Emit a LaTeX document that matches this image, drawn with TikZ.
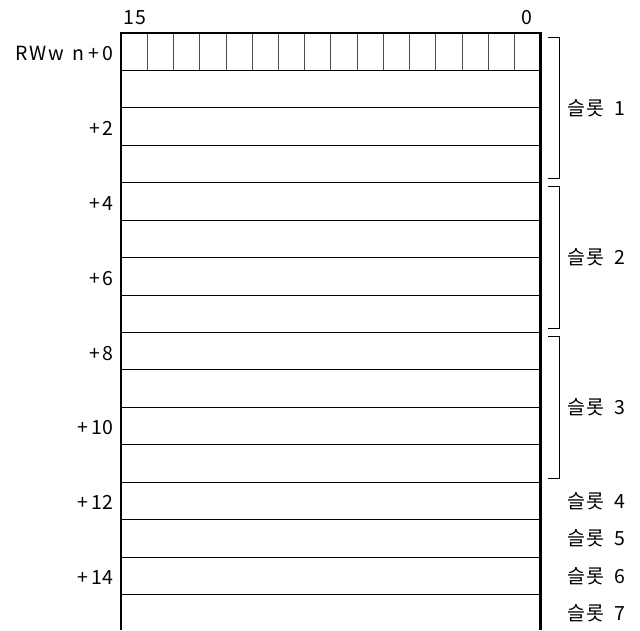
\documentclass[tikz,border=0pt]{standalone}
\usepackage{fontspec}
\setmainfont{Noto Sans CJK KR}
\begin{document}
\begin{tikzpicture}[x=1pt,y=-1pt,
  lbl/.style={font=\fontsize{19.5}{21}\selectfont, inner sep=0pt},
  rowline/.style={line width=1pt},
  bitline/.style={line width=0.7pt, black!70},
  frame/.style={line width=2.4pt},
  brk/.style={line width=0.9pt}]
\useasboundingbox (0,0) rectangle (640,630);
\def\L{121}\def\R{540.5}\def\T{33}\def\H{37.43}
% horizontal row lines
\foreach \k in {1,...,15}
  \draw[rowline] (\L,{\T+\k*\H}) -- (\R,{\T+\k*\H});
% bit cells
\foreach \i in {1,...,15}
  \draw[bitline] ({\L+\i*26.22},\T) -- ({\L+\i*26.22},{\T+\H});
% frame
\draw[frame] (\L,630) -- (\L,\T) -- (\R,\T) -- (\R,630);
% bit labels
\node[lbl] (b15) at (135,18) {1\kern1pt5};
\node[lbl] (b0) at (527,18) {0};
% row labels
\node[lbl,anchor=east] (r0) at (114,{\T+0.5*\H+2}) {R\kern2ptW\kern2ptw\hspace{8pt}n\hspace{4pt}+\hspace{4pt}0};
\foreach \k/\t in {2/2,4/4,6/6,8/8,10/1\kern1pt0,12/1\kern1pt2,14/1\kern1pt4}
  \node[lbl,anchor=east] (r\k) at (114,{\T+(\k+0.5)*\H+2}) {+\hspace{3pt}\t};
% brackets
\foreach \s in {0,1,2}{
  \draw[brk] (548,{\T+4*\s*\H+4}) -- (559,{\T+4*\s*\H+4}) -- (559,{\T+4*(\s+1)*\H-4}) -- (548,{\T+4*(\s+1)*\H-4});
}
\node[lbl,anchor=west] (s1) at (567,{\T+2*\H}) {슬\kern1pt롯\hspace{10pt}1};
\node[lbl,anchor=west] (s2) at (567,{\T+6*\H}) {슬\kern1pt롯\hspace{10pt}2};
\node[lbl,anchor=west] (s3) at (567,{\T+10*\H}) {슬\kern1pt롯\hspace{10pt}3};
\node[lbl,anchor=west] (s4) at (567,{\T+12.5*\H}) {슬\kern1pt롯\hspace{10pt}4};
\node[lbl,anchor=west] (s5) at (567,{\T+13.5*\H}) {슬\kern1pt롯\hspace{10pt}5};
\node[lbl,anchor=west] (s6) at (567,{\T+14.5*\H}) {슬\kern1pt롯\hspace{10pt}6};
\node[lbl,anchor=west] (s7) at (567,{\T+15.5*\H}) {슬\kern1pt롯\hspace{10pt}7};
\end{tikzpicture}
\end{document}
